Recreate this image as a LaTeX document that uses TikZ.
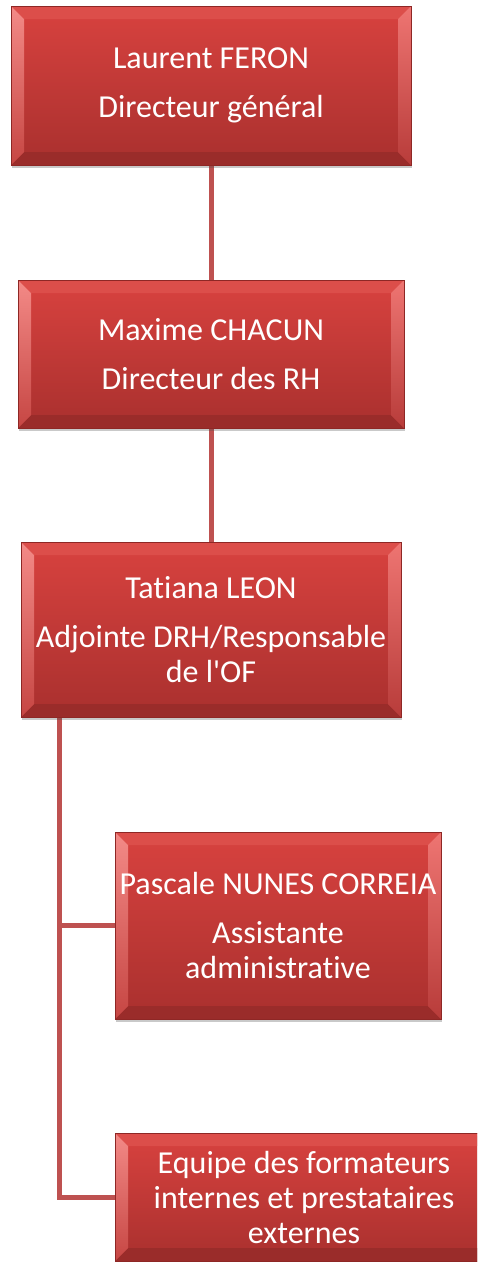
\documentclass[tikz,border=0pt]{standalone}
\usepackage{fontspec}
\newfontfamily\boxfont{Carlito}[Ligatures=NoCommon]
\usetikzlibrary{backgrounds,shadows}
\definecolor{facetop}{HTML}{D8423F}
\definecolor{facebot}{HTML}{A9302E}
\definecolor{boxborder}{HTML}{8E2725}
\definecolor{bevtop}{HTML}{DC4E4A}
\definecolor{bevbot}{HTML}{9A2C2A}
\definecolor{bevlA}{HTML}{F38A87}
\definecolor{bevlB}{HTML}{C64643}
\definecolor{bevrA}{HTML}{EE7572}
\definecolor{bevrB}{HTML}{B83C3A}
\definecolor{connc}{HTML}{BE5150}
\tikzset{
  orgbox/.style={rectangle, draw=boxborder, line width=0.6pt,
    top color=facetop, bottom color=facebot, text=white, align=center,
    inner sep=0pt, font=\boxfont\fontsize{32}{35}\selectfont,
    drop shadow={shadow xshift=1pt, shadow yshift=-3pt, opacity=0.3, fill=black!70},
    path picture={
      \fill[bevtop] (path picture bounding box.north west) -- (path picture bounding box.north east)
        -- ([shift={(-13pt,-13pt)}]path picture bounding box.north east)
        -- ([shift={(13pt,-13pt)}]path picture bounding box.north west) -- cycle;
      \fill[bevbot] (path picture bounding box.south west) -- (path picture bounding box.south east)
        -- ([shift={(-13pt,13pt)}]path picture bounding box.south east)
        -- ([shift={(13pt,13pt)}]path picture bounding box.south west) -- cycle;
      \shade[top color=bevlA, bottom color=bevlB] (path picture bounding box.south west) -- (path picture bounding box.north west)
        -- ([shift={(13pt,-13pt)}]path picture bounding box.north west)
        -- ([shift={(13pt,13pt)}]path picture bounding box.south west) -- cycle;
      \shade[top color=bevrA, bottom color=bevrB] (path picture bounding box.south east) -- (path picture bounding box.north east)
        -- ([shift={(-13pt,-13pt)}]path picture bounding box.north east)
        -- ([shift={(-13pt,13pt)}]path picture bounding box.south east) -- cycle;
    }},
  conn/.style={draw=connc, line width=5pt}
}
\begin{document}
\begin{tikzpicture}[x=1pt,y=-1pt]
\useasboundingbox (0,0) rectangle (477,1262);
\clip (0,0) rectangle (477,1262);
\node[orgbox, minimum width=400pt, minimum height=159pt] (b1) at (211,85.5)
  {Laurent FERON\\[14pt]Directeur général};
\node[orgbox, minimum width=386pt, minimum height=148pt] (b2) at (211,354)
  {Maxime CHACUN\\[14pt]Directeur des RH};
\node[orgbox, minimum width=380pt, minimum height=175pt] (b3) at (211,629.5)
  {Tatiana LEON\\[14pt]Adjointe DRH/Responsable\\de l'OF};
\node[orgbox, minimum width=326pt, minimum height=187pt] (b4) at (278,925.5)
  {Pascale NUNES CORREIA\\[14pt]Assistante\\administrative};
\node[orgbox, minimum width=378pt, minimum height=128pt] (b5) at (304,1197)
  {Equipe des formateurs\\internes et prestataires\\externes};
\coordinate (trunk) at (59,0);
\begin{scope}[on background layer]
  \draw[conn] (b1.south) -- (b2.north);
  \draw[conn] (b2.south) -- (b3.north);
  \draw[conn] (b3.south -| trunk) |- (b5.west);
  \draw[conn] (b4.west -| trunk) -- (b4.west);
\end{scope}
\end{tikzpicture}
\end{document}
